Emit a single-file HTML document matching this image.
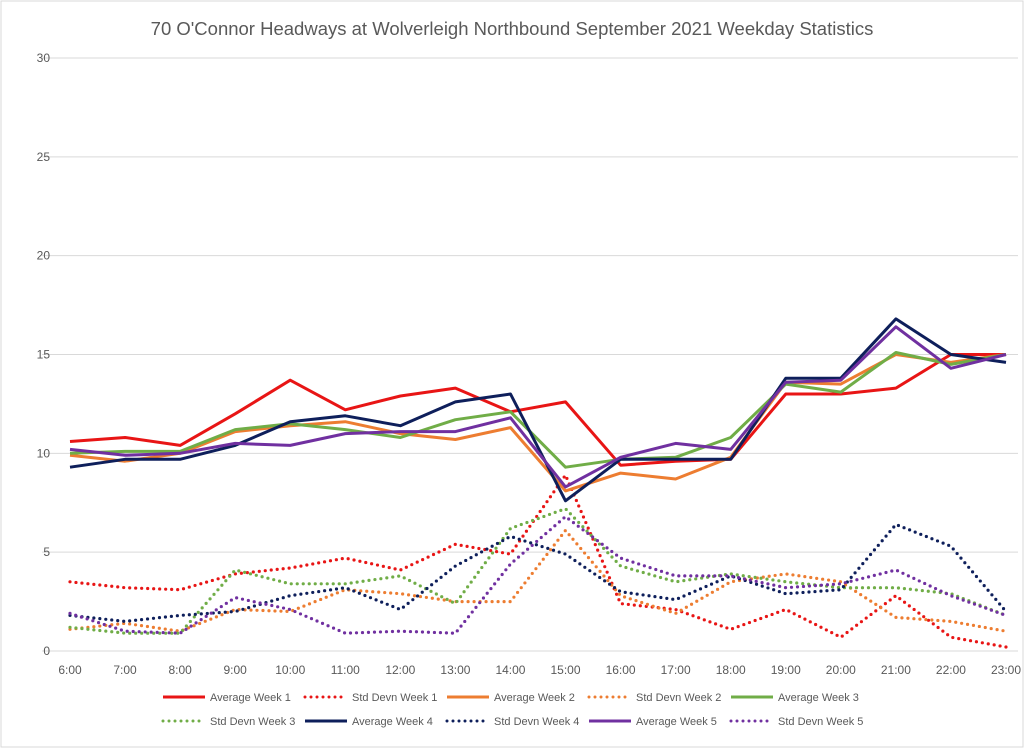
<!DOCTYPE html>
<html><head><meta charset="utf-8"><style>
body{margin:0;background:#fff;}
svg{display:block;font-family:"Liberation Sans",sans-serif;}
</style></head><body>
<svg id="chart" width="1024" height="748">
<rect x="1" y="1" width="1022" height="746" fill="#fff" stroke="#d9d9d9"/>
<text x="512" y="35" text-anchor="middle" font-size="18.5" fill="#595959">70 O'Connor Headways at Wolverleigh Northbound September 2021 Weekday Statistics</text>
<g id="grid"></g><g id="series"></g><g id="legend"></g>
</svg>
<script>
const categories=["6:00","7:00","8:00","9:00","10:00","11:00","12:00","13:00","14:00","15:00","16:00","17:00","18:00","19:00","20:00","21:00","22:00","23:00"];
const yTicks=[0,5,10,15,20,25,30];
const avgW1=[10.6,10.8,10.4,12.0,13.7,12.2,12.9,13.3,12.1,12.6,9.4,9.6,9.7,13.0,13.0,13.3,15.0,15.0];
const stdW1=[3.5,3.2,3.1,3.9,4.2,4.7,4.1,5.4,4.9,8.9,2.4,2.1,1.1,2.1,0.7,2.8,0.7,0.2];
const avgW2=[9.9,9.6,10.0,11.1,11.4,11.6,11.0,10.7,11.3,8.1,9.0,8.7,9.8,13.6,13.5,15.0,14.6,15.0];
const stdW2=[1.1,1.4,1.0,2.1,2.0,3.1,2.9,2.5,2.5,6.1,2.8,1.9,3.5,3.9,3.5,1.7,1.5,1.0];
const avgW3=[10.0,10.1,10.1,11.2,11.5,11.2,10.8,11.7,12.1,9.3,9.7,9.8,10.8,13.5,13.1,15.1,14.5,15.0];
const stdW3=[1.2,0.9,0.9,4.1,3.4,3.4,3.8,2.4,6.2,7.2,4.3,3.5,3.9,3.5,3.2,3.2,2.9,1.8];
const avgW4=[9.3,9.7,9.7,10.4,11.6,11.9,11.4,12.6,13.0,7.6,9.7,9.7,9.7,13.8,13.8,16.8,15.0,14.6];
const stdW4=[1.8,1.5,1.8,2.0,2.8,3.2,2.1,4.3,5.8,4.9,3.0,2.6,3.8,2.9,3.1,6.4,5.3,2.0];
const avgW5=[10.2,9.9,10.0,10.5,10.4,11.0,11.1,11.1,11.8,8.3,9.8,10.5,10.2,13.6,13.7,16.4,14.3,15.0];
const stdW5=[1.9,1.0,0.9,2.7,2.1,0.9,1.0,0.9,4.4,6.8,4.7,3.8,3.8,3.2,3.4,4.1,2.8,1.8];
const seriesNames=["Average Week 1","Std Devn Week 1","Average Week 2","Std Devn Week 2","Average Week 3","Std Devn Week 3","Average Week 4","Std Devn Week 4","Average Week 5","Std Devn Week 5"];
const seriesData=[avgW1,stdW1,avgW2,stdW2,avgW3,stdW3,avgW4,stdW4,avgW5,stdW5];
const colors=["#e81515","#e81515","#ed7d31","#ed7d31","#70ad47","#70ad47","#0e1f5b","#0e1f5b","#7030a0","#7030a0"];
const NS="http://www.w3.org/2000/svg";
const x0=70,x1=1006,yBase=651,yTop=58,yMax=30;
const xs=i=>x0+i*(x1-x0)/(categories.length-1);
const ys=v=>yBase-v*(yBase-yTop)/yMax;
function mk(tag,attrs,parent){const e=document.createElementNS(NS,tag);for(const k in attrs)e.setAttribute(k,attrs[k]);parent.appendChild(e);return e;}
const grid=document.getElementById('grid');
yTicks.forEach(t=>{
  const l=mk('line',{x1:42,x2:1018,y1:ys(t),y2:ys(t),stroke:'#d9d9d9','stroke-width':1},grid);
  
  
  const tx=mk('text',{x:50,y:ys(t)+4,'text-anchor':'end','font-size':12,fill:'#595959'},grid);
  tx.textContent=t;
  
  
});
categories.forEach((c,i)=>{
  const tx=mk('text',{x:xs(i),y:674,'text-anchor':'middle','font-size':12,fill:'#595959'},grid);
  tx.textContent=c;
  
  
});
const sg=document.getElementById('series');
seriesData.forEach((d,si)=>{
  const dotted=si%2===1;
  const pts=d.map((v,i)=>xs(i).toFixed(1)+','+ys(v).toFixed(1)).join(' ');
  const a={points:pts,fill:'none',stroke:colors[si],'stroke-width':3,'stroke-linejoin':'round'};
  if(dotted){a['stroke-dasharray']='0 6';a['stroke-linecap']='round';a['stroke-width']=3.2;}
  const p=mk('polyline',a,sg);
  
  
});
const lg=document.getElementById('legend');
seriesNames.forEach((n,si)=>{
  const row=si<5?0:1,col=si%5;
  const lx=163+col*142,ly=row?721:697;
  const g=mk('g',{},lg);
  
  
  const a={x1:lx,x2:lx+42,y1:ly,y2:ly,stroke:colors[si],'stroke-width':3};
  if(si%2===1){a['stroke-dasharray']='0 6';a['stroke-linecap']='round';}
  mk('line',a,g);
  const t=mk('text',{x:lx+47,y:ly+4,'font-size':11,fill:'#595959'},g);
  t.textContent=n;
});
</script>
</body></html>
